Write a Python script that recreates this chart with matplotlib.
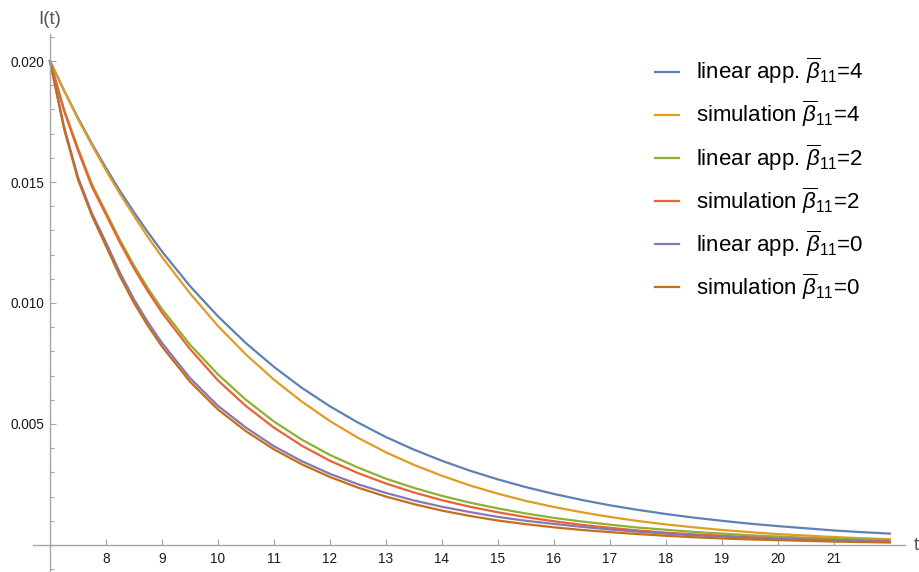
import matplotlib
matplotlib.use("Agg")
import matplotlib.pyplot as plt
from matplotlib.ticker import FixedLocator, MultipleLocator

plt.rcParams["font.family"] = ["Liberation Sans", "DejaVu Sans"]
plt.rcParams["mathtext.fontset"] = "custom"
plt.rcParams["mathtext.rm"] = "Liberation Sans"
plt.rcParams["mathtext.it"] = "Liberation Sans:italic"

# I(t) curves for three values of beta_11 (linear approximation vs simulation)
t = [7, 7.25, 7.5, 7.75, 8, 8.25, 8.5, 8.75, 9, 9.5, 10, 10.5, 11, 11.5, 12, 12.5, 13, 13.5,
     14, 14.5, 15, 15.5, 16, 16.5, 17, 17.5, 18, 18.5, 19, 19.5, 20, 20.5, 21, 21.5, 22]

lin_b4 = [0.0200, 0.01879, 0.01765, 0.01658, 0.01558, 0.01463, 0.01375, 0.01292, 0.01213,
          0.01070, 0.00945, 0.00834, 0.00736, 0.00649, 0.00573, 0.00506, 0.00446, 0.00394,
          0.00348, 0.00307, 0.00271, 0.00239, 0.00211, 0.00186, 0.00164, 0.00145, 0.00128,
          0.00113, 0.00100, 0.00088, 0.00078, 0.00069, 0.00060, 0.00053, 0.00047]
sim_b4 = [0.0200, 0.01878, 0.01760, 0.01652, 0.01548, 0.01451, 0.01360, 0.01272, 0.01190,
          0.01040, 0.00905, 0.00787, 0.00683, 0.00592, 0.00512, 0.00443, 0.00383, 0.00331,
          0.00286, 0.00246, 0.00212, 0.00182, 0.00157, 0.00135, 0.00116, 0.00099, 0.00085,
          0.00073, 0.00062, 0.00053, 0.00045, 0.00039, 0.00033, 0.00028, 0.00024]
lin_b2 = [0.0200, 0.01800, 0.01640, 0.01490, 0.01375, 0.01260, 0.01155, 0.01060, 0.00975,
          0.00828, 0.00705, 0.00600, 0.00510, 0.00435, 0.00372, 0.00320, 0.00274, 0.00236,
          0.00203, 0.00175, 0.00151, 0.00130, 0.00112, 0.00097, 0.00084, 0.00072, 0.00063,
          0.00054, 0.00047, 0.00040, 0.00035, 0.00030, 0.00026, 0.00023, 0.00020]
sim_b2 = [0.0200, 0.01795, 0.01630, 0.01480, 0.01365, 0.01249, 0.01143, 0.01047, 0.00960,
          0.00810, 0.00680, 0.00574, 0.00485, 0.00410, 0.00348, 0.00297, 0.00254, 0.00217,
          0.00185, 0.00158, 0.00135, 0.00115, 0.00098, 0.00083, 0.00071, 0.00060, 0.00051,
          0.00044, 0.00038, 0.00032, 0.00027, 0.00023, 0.00020, 0.00017, 0.00015]
lin_b0 = [0.0200, 0.01730, 0.01520, 0.01370, 0.01250, 0.01125, 0.01015, 0.00920, 0.00835,
          0.00690, 0.00575, 0.00485, 0.00408, 0.00346, 0.00294, 0.00251, 0.00215, 0.00184,
          0.00158, 0.00136, 0.00116, 0.00100, 0.00087, 0.00075, 0.00064, 0.00055, 0.00047,
          0.00040, 0.00035, 0.00030, 0.00026, 0.00022, 0.00019, 0.00016, 0.00014]
sim_b0 = [0.0200, 0.01720, 0.01510, 0.01360, 0.01235, 0.01110, 0.01000, 0.00905, 0.00820,
          0.00675, 0.00560, 0.00470, 0.00395, 0.00333, 0.00281, 0.00237, 0.00200, 0.00169,
          0.00142, 0.00120, 0.00101, 0.00086, 0.00073, 0.00062, 0.00053, 0.00045, 0.00038,
          0.00032, 0.00027, 0.00023, 0.00020, 0.00017, 0.00014, 0.00012, 0.00010]

series = [
    (lin_b4, "#5E81B5", r"linear app. $\overline{\beta}_{11}$=4"),
    (sim_b4, "#E19C24", r"simulation $\overline{\beta}_{11}$=4"),
    (lin_b2, "#8FB032", r"linear app. $\overline{\beta}_{11}$=2"),
    (sim_b2, "#EB6235", r"simulation $\overline{\beta}_{11}$=2"),
    (lin_b0, "#8778B3", r"linear app. $\overline{\beta}_{11}$=0"),
    (sim_b0, "#C56E1A", r"simulation $\overline{\beta}_{11}$=0"),
]

x_ticks = list(range(8, 22))
y_ticks = [0.005, 0.010, 0.015, 0.020]
y_tick_labels = ["0.005", "0.010", "0.015", "0.020"]

fig = plt.figure(figsize=(9.2, 5.72), dpi=100)
ax = fig.add_axes([33.2 / 920, 0.4 / 572, (905 - 33.2) / 920, (571.6 - 34.4) / 572])

for ys, col, lab in series:
    ax.plot(t, ys, color=col, lw=1.6, label=lab, solid_joinstyle="round")

ax.set_xlim(6.7, 22.27)
ax.set_ylim(-0.0011, 0.0211)

# axes cross at (7, 0) like a Mathematica plot
axis_col = "#a6a6a6"
ax.spines["left"].set_position(("data", 7))
ax.spines["bottom"].set_position(("data", 0))
ax.spines["top"].set_visible(False)
ax.spines["right"].set_visible(False)
for s in ("left", "bottom"):
    ax.spines[s].set_color(axis_col)
    ax.spines[s].set_linewidth(1.0)

ax.xaxis.set_major_locator(FixedLocator(x_ticks))
ax.set_yticks(y_ticks)
ax.set_yticklabels(y_tick_labels)
ax.yaxis.set_minor_locator(MultipleLocator(0.001))
ax.tick_params(which="both", direction="in", color=axis_col, width=0.8,
               labelsize=9.8, labelcolor="#1a1a1a")
ax.tick_params(which="major", length=4.5)
ax.tick_params(which="minor", length=3)
ax.tick_params(axis="x", pad=5)
ax.tick_params(axis="y", pad=4)

fig.text(50 / 920, 1 - 19 / 572, "I(t)", ha="center", va="center",
         fontsize=13.5, color="#555555")
fig.text(916 / 920, 1 - 545 / 572, "t", ha="center", va="center",
         fontsize=13.5, color="#555555")

ax.legend(loc="upper left", bbox_to_anchor=(655 / 920, 1 - 56 / 572),
          bbox_transform=fig.transFigure, frameon=False, fontsize=16,
          handlelength=1.08, handletextpad=0.77, labelspacing=0.57,
          borderaxespad=0, borderpad=0)

fig.savefig("out.png", dpi=100, facecolor="white")
